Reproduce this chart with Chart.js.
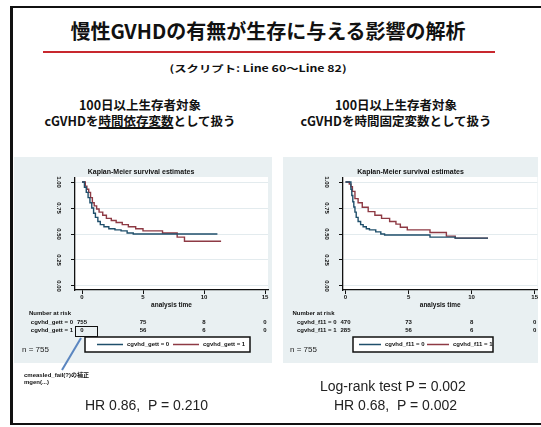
<!DOCTYPE html>
<html><head><meta charset="utf-8">
<script src="https://cdn.jsdelivr.net/npm/chart.js@4/dist/chart.umd.min.js"></script>
<style>
html,body{margin:0;padding:0;background:#fff;width:541px;height:427px;overflow:hidden;position:relative;font-family:"Noto Sans CJK JP",sans-serif;color:#111;}
.abs{position:absolute;white-space:nowrap;}
.c{text-align:center;}
.cv{position:absolute;}
</style></head><body>
<script>
// ---- data ----
const timeTicks = [0, 5, 10, 15];
const survTicks = [0, 0.25, 0.5, 0.75, 1];
const survTickLabels = ['0.00', '0.25', '0.50', '0.75', '1.00'];

const leftGroups = ['cgvhd_gett = 0', 'cgvhd_gett = 1'];
const leftT0 = [0, 0.2, 0.35, 0.5, 0.65, 0.8, 0.95, 1.1, 1.3, 1.5, 1.8, 2.2, 2.7, 3.2, 3.7, 4.2, 11.1];
const leftS0 = [1, 0.95, 0.90, 0.85, 0.80, 0.75, 0.70, 0.66, 0.62, 0.59, 0.57, 0.55, 0.54, 0.53, 0.51, 0.50, 0.50];
const leftT1 = [0, 0.27, 0.4, 0.55, 0.7, 0.85, 1.0, 1.2, 1.4, 1.7, 2.0, 2.4, 2.8, 3.3, 3.8, 4.4, 5.0, 6.6, 7.8, 8.4, 11.4];
const leftS1 = [1, 0.96, 0.93, 0.90, 0.85, 0.80, 0.77, 0.74, 0.71, 0.68, 0.65, 0.63, 0.61, 0.59, 0.57, 0.55, 0.53, 0.51, 0.47, 0.43, 0.43];
const leftRisk0 = ['755', '75', '8', '0'];
const leftRisk1 = ['0', '56', '6', '0'];

const rightGroups = ['cgvhd_f11 = 0', 'cgvhd_f11 = 1'];
const rightT0 = [0, 0.43, 0.5, 0.58, 0.66, 0.75, 0.85, 1.0, 1.2, 1.4, 1.65, 1.9, 2.4, 2.8, 3.1, 6.7, 8.7, 11.3];
const rightS0 = [1, 0.93, 0.87, 0.81, 0.76, 0.71, 0.66, 0.62, 0.59, 0.57, 0.55, 0.54, 0.52, 0.50, 0.49, 0.47, 0.46, 0.46];
const rightT1 = [0, 0.3, 0.43, 0.55, 0.75, 1.0, 1.33, 1.8, 2.33, 2.86, 3.5, 4.0, 4.35, 4.9, 6.7, 8.0, 8.7, 11.3];
const rightS1 = [1, 0.98, 0.955, 0.91, 0.84, 0.80, 0.757, 0.715, 0.68, 0.65, 0.62, 0.595, 0.565, 0.54, 0.515, 0.48, 0.46, 0.46];
const rightRisk0 = ['470', '73', '8', '0'];
const rightRisk1 = ['285', '56', '6', '0'];

const nLabel = 'n = 755';
</script>

<!-- slide frame -->
<div class="abs" style="left:10px;top:6px;width:600px;height:419px;box-sizing:border-box;border:2px solid #111;border-left-width:3px;"></div>

<!-- slide title -->
<div class="abs c" style="left:0;width:536px;top:19px;font-size:20px;line-height:24px;font-weight:bold;">慢性GVHDの有無が生存に与える影響の解析</div>
<div class="abs" style="left:43px;top:51px;width:452px;height:2px;background:#c8282e;"></div>
<div class="abs c" style="left:0;width:516px;top:61px;font-size:9.5px;line-height:14px;font-weight:bold;"><span style="display:inline-block;transform:scaleX(1.3);">(スクリプト: Line 60～Line 82)</span></div>

<!-- headings -->
<div class="abs c" style="left:20px;width:240px;top:97px;font-size:12.5px;line-height:16px;font-weight:bold;">100日以上生存者対象</div>
<div class="abs c" style="left:20px;width:240px;top:113px;font-size:12.5px;line-height:16px;font-weight:bold;">cGVHDを<span style="text-decoration:underline;text-decoration-thickness:2px;">時間依存変数</span>として扱う</div>
<div class="abs c" style="left:276px;width:240px;top:97px;font-size:12.5px;line-height:16px;font-weight:bold;">100日以上生存者対象</div>
<div class="abs c" style="left:276px;width:240px;top:113px;font-size:12.5px;line-height:16px;font-weight:bold;">cGVHDを時間固定変数として扱う</div>

<!-- charts -->
<div class="cv" style="left:14px;top:157px;width:258px;height:206px;"><canvas id="kmL" width="258" height="206"></canvas></div>
<div class="cv" style="left:283px;top:157px;width:255px;height:206px;"><canvas id="kmR" width="255" height="206"></canvas></div>

<!-- annotation -->
<div class="abs" style="left:75px;top:326px;width:23px;height:11px;box-sizing:border-box;border:1.5px solid #111;"></div>
<svg class="abs" style="left:0;top:0;" width="541" height="427">
  <line x1="81" y1="338" x2="62" y2="370" stroke="#5b86c0" stroke-width="2"/>
</svg>
<div class="abs" style="left:24px;top:372px;font-size:6px;line-height:7px;font-weight:bold;font-family:'Liberation Sans','Noto Sans CJK JP',sans-serif;">cmeasled_fail(?)の補正<br>mgen(...)</div>

<!-- bottom texts -->
<div class="abs" style="left:85px;top:396px;font-size:14px;line-height:18px;font-family:'Liberation Sans',sans-serif;color:#222;">HR 0.86,&nbsp; P = 0.210</div>
<div class="abs" style="left:320px;top:377px;font-size:14px;line-height:18px;font-family:'Liberation Sans',sans-serif;color:#222;">Log-rank test P = 0.002</div>
<div class="abs" style="left:334px;top:396px;font-size:14px;line-height:18px;font-family:'Liberation Sans',sans-serif;color:#222;">HR 0.68,&nbsp; P = 0.002</div>

<script>
const BLUE = '#1f4f6b', RED = '#8e3a44';
const PANEL = '#e9f0f2';
const FONT = '"Liberation Sans", Arial, sans-serif';

function pts(T, S) { return T.map((t, i) => ({ x: t, y: S[i] })); }

const kmDecor = {
  id: 'kmDecor',
  beforeDraw(chart) {
    const { ctx, chartArea: a, width, height } = chart;
    ctx.save();
    ctx.fillStyle = PANEL; ctx.fillRect(0, 0, width, height);
    ctx.fillStyle = '#fff'; ctx.fillRect(a.left, a.top - 1, a.right - a.left, a.bottom - a.top + 1);
    ctx.restore();
  },
  afterDraw(chart, args, o) {
    const { ctx } = chart;
    const xs = chart.scales.x;
    const x0 = xs.getPixelForValue(timeTicks[0]);
    ctx.save();
    ctx.fillStyle = '#111';
    ctx.font = 'bold 6px ' + FONT;
    ctx.textBaseline = 'middle';
    ctx.textAlign = 'center';
    ctx.fillText('Number at risk', x0 - 32, o.riskY - 9);
    chart.data.datasets.forEach((ds, r) => {
      const y = o.riskY + r * 8;
      ctx.textAlign = 'right';
      ctx.fillText(ds.label, x0 - 9, y);
      ctx.textAlign = 'center';
      o.risk[r].forEach((v, i) => ctx.fillText(v, xs.getPixelForValue(timeTicks[i]), y));
    });
    // legend box
    const L = o.legend;
    ctx.fillStyle = '#fff';
    ctx.fillRect(L.x, L.y, L.w, L.h);
    ctx.strokeStyle = '#111'; ctx.lineWidth = 1.5;
    ctx.strokeRect(L.x, L.y, L.w, L.h);
    chart.data.datasets.forEach((ds, r) => {
      const sx = L.x + L.items[r];
      const cy = L.y + L.h / 2;
      ctx.strokeStyle = ds.borderColor; ctx.lineWidth = 1.5;
      ctx.beginPath(); ctx.moveTo(sx, cy); ctx.lineTo(sx + L.line, cy); ctx.stroke();
      ctx.fillStyle = '#111'; ctx.textAlign = 'left';
      ctx.font = 'bold 6px ' + FONT;
      ctx.fillText(ds.label, sx + L.line + 4, cy);
    });
    ctx.font = '8px ' + FONT;
    ctx.textAlign = 'left';
    ctx.fillStyle = '#222';
    ctx.fillText(nLabel, o.nX, o.nY);
    ctx.restore();
  }
};

function makeKM(id, groups, T0, S0, T1, S1, risk, opt) {
  return new Chart(document.getElementById(id), {
    type: 'line',
    data: {
      datasets: [
        { label: groups[0], data: pts(T0, S0), borderColor: BLUE, borderWidth: 1.4, pointRadius: 0, stepped: true, fill: false },
        { label: groups[1], data: pts(T1, S1), borderColor: RED, borderWidth: 1.4, pointRadius: 0, stepped: true, fill: false }
      ]
    },
    options: {
      responsive: false, animation: false, events: [],
      layout: { padding: { left: 0, right: opt.padRight, top: 0, bottom: 54 } },
      plugins: {
        legend: { display: false }, tooltip: { enabled: false },
        title: { display: true, text: 'Kaplan-Meier survival estimates', color: '#111',
                 font: { family: FONT, size: 7, weight: 'bold', lineHeight: 1.2 },
                 padding: { top: 11, bottom: 1.6 } },
        kmDecor: { risk: risk, riskY: 165, legend: opt.legend, nX: opt.nX, nY: 193 }
      },
      scales: {
        x: {
          type: 'linear', min: opt.xMin, max: opt.xMax,
          afterBuildTicks: s => { s.ticks = timeTicks.map(v => ({ value: v })); },
          afterFit: s => { s.height = 19; },
          grid: { drawOnChartArea: false, color: '#111', tickColor: '#111', tickLength: 4, lineWidth: 1 },
          border: { color: '#111', width: 1.3 },
          ticks: { color: '#111', padding: 0, maxRotation: 0, font: { family: FONT, size: 6, weight: 'bold' } },
          title: { display: true, text: 'analysis time', color: '#111', padding: 0,
                   font: { family: FONT, size: 6.5, weight: 'bold', lineHeight: 1.2 } }
        },
        y: {
          type: 'linear', min: -0.0385, max: 1.0385,
          afterBuildTicks: s => { s.ticks = survTicks.map(v => ({ value: v })); },
          afterFit: s => { s.width = opt.yWidth; },
          grid: { drawOnChartArea: true, color: '#e3ebee', tickColor: '#111', tickLength: 4, lineWidth: 1 },
          border: { color: '#111', width: 1.3 },
          ticks: { color: '#111', padding: 7, crossAlign: 'center', minRotation: -90, maxRotation: -90,
                   font: { family: FONT, size: 6, weight: 'bold' },
                   callback: v => survTickLabels[survTicks.indexOf(v)] }
        }
      }
    },
    plugins: [kmDecor]
  });
}

makeKM('kmL', leftGroups, leftT0, leftS0, leftT1, leftS1, [leftRisk0, leftRisk1], {
  xMin: -7 / 12.2, xMax: -7 / 12.2 + 193 / 12.2, yWidth: 61, padRight: 4, nX: 8,
  legend: { x: 71, y: 180, w: 165, h: 15, line: 26, items: [12, 88] }
});
makeKM('kmR', rightGroups, rightT0, rightS0, rightT1, rightS1, [rightRisk0, rightRisk1], {
  xMin: -2.5 / 12.65, xMax: -2.5 / 12.65 + 195 / 12.65, yWidth: 60, padRight: 0, nX: 7,
  legend: { x: 70, y: 180, w: 140, h: 15, line: 22, items: [6, 74] }
});
</script>
</body></html>
